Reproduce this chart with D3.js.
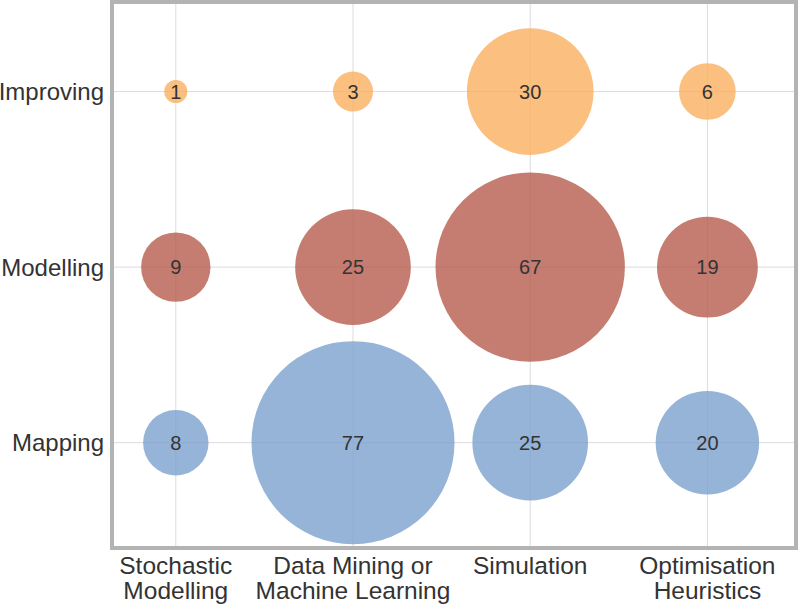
<!DOCTYPE html>
<html><head><meta charset="utf-8">
<script src="https://cdn.jsdelivr.net/npm/d3@7"></script>
<style>body{margin:0;background:#fff;} svg{display:block;font-family:"Liberation Sans",Arial,sans-serif;}</style>
</head><body>
<script>
const methods = ["Stochastic\nModelling", "Data Mining or\nMachine Learning", "Simulation", "Optimisation\nHeuristics"];
const purposes = ["Mapping", "Modelling", "Improving"];
const mappingValues = [8, 77, 25, 20];
const modellingValues = [9, 25, 67, 19];
const improvingValues = [1, 3, 30, 6];
const seriesColors = ["#7ca1ce", "#b55c4c", "#faaf60"];

const W = 800, H = 605;
const L = 112, R = 796, T = 2, B = 548;
const svg = d3.select("body").append("svg").attr("width", W).attr("height", H);

const x = d3.scaleLinear().domain([-0.36, 3.5]).range([L, R]);
const y = d3.scaleLinear().domain([-0.6, 2.51]).range([B, T]);
const r = d3.scaleSqrt().domain([0, 77]).range([0, 101.5]);

const rows = [mappingValues, modellingValues, improvingValues];
const data = [];
rows.forEach((vals, pi) => vals.forEach((v, mi) => data.push({pi, mi, v})));

// grid
svg.append("g").selectAll("line.v").data(methods).join("line")
  .attr("x1", (d,i)=>x(i)).attr("x2", (d,i)=>x(i)).attr("y1", T).attr("y2", B)
  .attr("stroke", "#dcdcdc").attr("stroke-width", 1);
svg.append("g").selectAll("line.h").data(purposes).join("line")
  .attr("y1", (d,i)=>y(i)).attr("y2", (d,i)=>y(i)).attr("x1", L).attr("x2", R)
  .attr("stroke", "#dcdcdc").attr("stroke-width", 1);

// bubbles
svg.append("g").selectAll("circle").data(data).join("circle")
  .attr("cx", d=>x(d.mi)).attr("cy", d=>y(d.pi)).attr("r", d=>r(d.v))
  .attr("fill", d=>seriesColors[d.pi]).attr("fill-opacity", 0.8);

svg.append("g").selectAll("text").data(data).join("text")
  .attr("x", d=>x(d.mi)).attr("y", d=>y(d.pi)).attr("dy", "0.36em")
  .attr("text-anchor", "middle").attr("font-size", 20).attr("fill", "#333")
  .text(d=>d.v);

// frame
svg.append("rect").attr("x", L).attr("y", T).attr("width", R-L).attr("height", B-T)
  .attr("fill", "none").attr("stroke", "#b3b3b3").attr("stroke-width", 4);

// y labels
svg.append("g").selectAll("text").data(purposes).join("text")
  .attr("x", 104).attr("y", (d,i)=>y(i)).attr("dy", "0.36em")
  .attr("text-anchor", "end").attr("font-size", 24).attr("fill", "#333")
  .text(d=>d);

// x labels
const xl = svg.append("g").selectAll("text").data(methods).join("text")
  .attr("x", (d,i)=>x(i)).attr("y", 574)
  .attr("text-anchor", "middle").attr("font-size", 24.5).attr("fill", "#333");
xl.each(function(d,i){
  const t = d3.select(this);
  d.split("\n").forEach((line, li) => {
    t.append("tspan").attr("x", x(i)).attr("dy", li===0 ? 0 : 25).text(line);
  });
});
</script>
</body></html>
